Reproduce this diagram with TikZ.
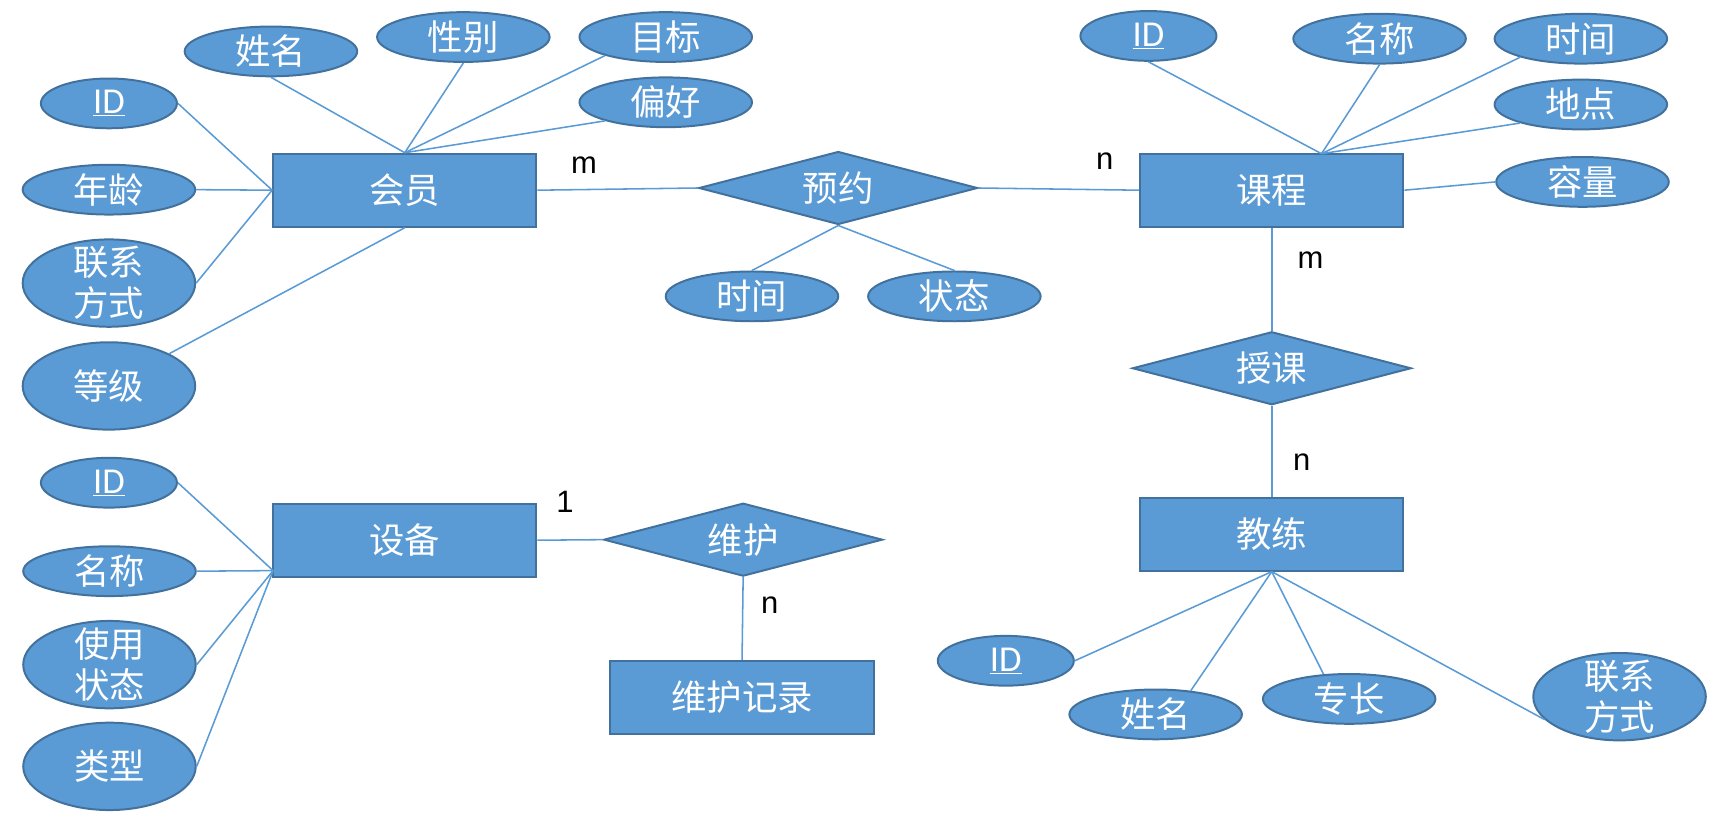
\documentclass[tikz,border=0pt]{standalone}
\usepackage{fontspec}
\newfontfamily\cjk{Noto Sans CJK SC}
\newfontfamily\cardf{Liberation Sans}
\newfontfamily\idf{Carlito}
\usetikzlibrary{shapes.geometric}
\definecolor{bl}{HTML}{5B9BD5}
\definecolor{bd}{HTML}{41719C}
\begin{document}
\begin{tikzpicture}[x=1pt,y=-1pt,
  ent/.style={draw=bd, fill=bl, line width=1.8pt, minimum width=238pt, minimum height=66pt, inner sep=0pt, text=white, font=\cjk\fontsize{32}{37}\selectfont},
  rel/.style={diamond, aspect=3.8, draw=bd, fill=bl, line width=1.8pt, minimum width=252pt, minimum height=66pt, inner sep=0pt, text=white, font=\cjk\fontsize{32}{37}\selectfont},
  attr/.style={ellipse, draw=bd, fill=bl, line width=1.8pt, inner sep=0pt, minimum width=156pt, minimum height=45pt},
  idattr/.style={attr, minimum width=123pt},
  bigattr/.style={attr, minimum height=79pt},
  lbl/.style={text=white, inner sep=0pt, align=center, font=\cjk\fontsize{32}{37}\selectfont},
  idlbl/.style={text=white, inner sep=0pt, font=\idf\fontsize{33}{37}\selectfont},
  con/.style={draw=bl, line width=1.4pt},
  card/.style={text=black, inner sep=0pt, font=\cardf\fontsize{28}{32}\selectfont}
]
\useasboundingbox (0,0) rectangle (1568,738);

% ---------- nodes ----------
% 会员
\node[ent] (m0) at (366,172) {会员};
\node[attr, label={[lbl]center:姓名}] (m1) at (245,46.5) {};
\node[attr, label={[lbl]center:性别}] (m2) at (419,33.5) {};
\node[attr, label={[lbl]center:目标}] (m3) at (602,33.5) {};
\node[attr, label={[lbl]center:偏好}] (m4) at (602,92.5) {};
\node[idattr, label={[idlbl]center:\underline{ID}}] (mid) at (98.5,93.5) {};
\node[attr, label={[lbl]center:年龄}] (m5) at (98.5,171.5) {};
\node[bigattr, label={[lbl]center:{联系\\方式}}] (m6) at (98.5,256) {};
\node[bigattr, label={[lbl]center:等级}] (m7) at (98.5,349) {};

% 预约
\node[rel] (r1) at (758,170) {预约};
\node[attr, label={[lbl]center:时间}] (t1) at (680,268) {};
\node[attr, label={[lbl]center:状态}] (t2) at (863,268) {};

% 课程
\node[ent] (c0) at (1150,172) {课程};
\coordinate (kc) at (1195,139);
\node[idattr, label={[idlbl]center:\underline{ID}}] (c1) at (1038.5,32.5) {};
\node[attr, label={[lbl]center:名称}] (c2) at (1247.5,35) {};
\node[attr, label={[lbl]center:时间}] (c3) at (1429.5,35) {};
\node[attr, label={[lbl]center:地点}] (c4) at (1429.5,94.5) {};
\node[attr, label={[lbl]center:容量}] (c5) at (1431,164.5) {};

% 授课 / 教练
\node[rel] (r2) at (1150,333) {授课};
\node[ent] (k0) at (1150,483) {教练};
\node[idattr, label={[idlbl]center:\underline{ID}}] (k1) at (909.5,597.5) {};
\node[attr, label={[lbl]center:姓名}] (k2) at (1045,646) {};
\node[attr, label={[lbl]center:专长}] (k3) at (1220,632) {};
\node[bigattr, label={[lbl]center:{联系\\方式}}] (k4) at (1464.5,630) {};

% 设备
\node[ent] (e0) at (366,488.5) {设备};
\coordinate (ec) at (247,516);
\node[idattr, label={[idlbl]center:\underline{ID}}] (e1) at (98.5,436.5) {};
\node[attr, label={[lbl]center:名称}] (e2) at (99,516.5) {};
\node[bigattr, label={[lbl]center:{使用\\状态}}] (e3) at (99,601) {};
\node[bigattr, label={[lbl]center:类型}] (e4) at (99,693) {};

% 维护
\node[rel] (r3) at (672,488) {维护};
\node[ent] (w0) at (671,630.5) {维护记录};

% ---------- connectors ----------
\draw[con] (m1.south) -- (m0.north);
\draw[con] (m2.south) -- (m0.north);
\draw[con] (m3.197) -- (m0.north);
\draw[con] (m4.197) -- (m0.north);
\draw[con] (mid.east) -- (m0.west);
\draw[con] (m5.east) -- (m0.west);
\draw[con] (m6.east) -- (m0.west);
\draw[con] (m7) -- (m0.south);

\draw[con] (m0.east) -- (r1.west);
\draw[con] (r1.east) -- (c0.west);
\draw[con] (r1.south) -- (t1.north);
\draw[con] (r1.south) -- (t2.north);

\draw[con] (c1.south) -- (kc);
\draw[con] (c2.south) -- (kc);
\draw[con] (c3.197) -- (kc);
\draw[con] (c4.197) -- (kc);
\draw[con] (c5.west) -- (c0.east);

\draw[con] (c0.south) -- (r2.north);
\draw[con] (r2.south) -- (k0.north);
\draw[con] (k0.south) -- (k1.east);
\draw[con] (k0.south) -- (k2.34);
\draw[con] (k0.south) -- (k3.136);
\draw[con] (k0.south) -- (k4.197);

\draw[con] (e1.east) -- (ec);
\draw[con] (e2.east) -- (ec);
\draw[con] (e3.east) -- (ec);
\draw[con] (e4.east) -- (ec);
\draw[con] (e0.east) -- (r3.west);
\draw[con] (r3.south) -- (w0.north);

% ---------- cardinalities ----------
\node[card] (l1) at (528,149) {m};
\node[card] (l2) at (999,146) {n};
\node[card] (l3) at (1185,235) {m};
\node[card] (l4) at (1177,418) {n};
\node[card] (l5) at (511,454) {1};
\node[card] (l6) at (696,547) {n};
\end{tikzpicture}
\end{document}
